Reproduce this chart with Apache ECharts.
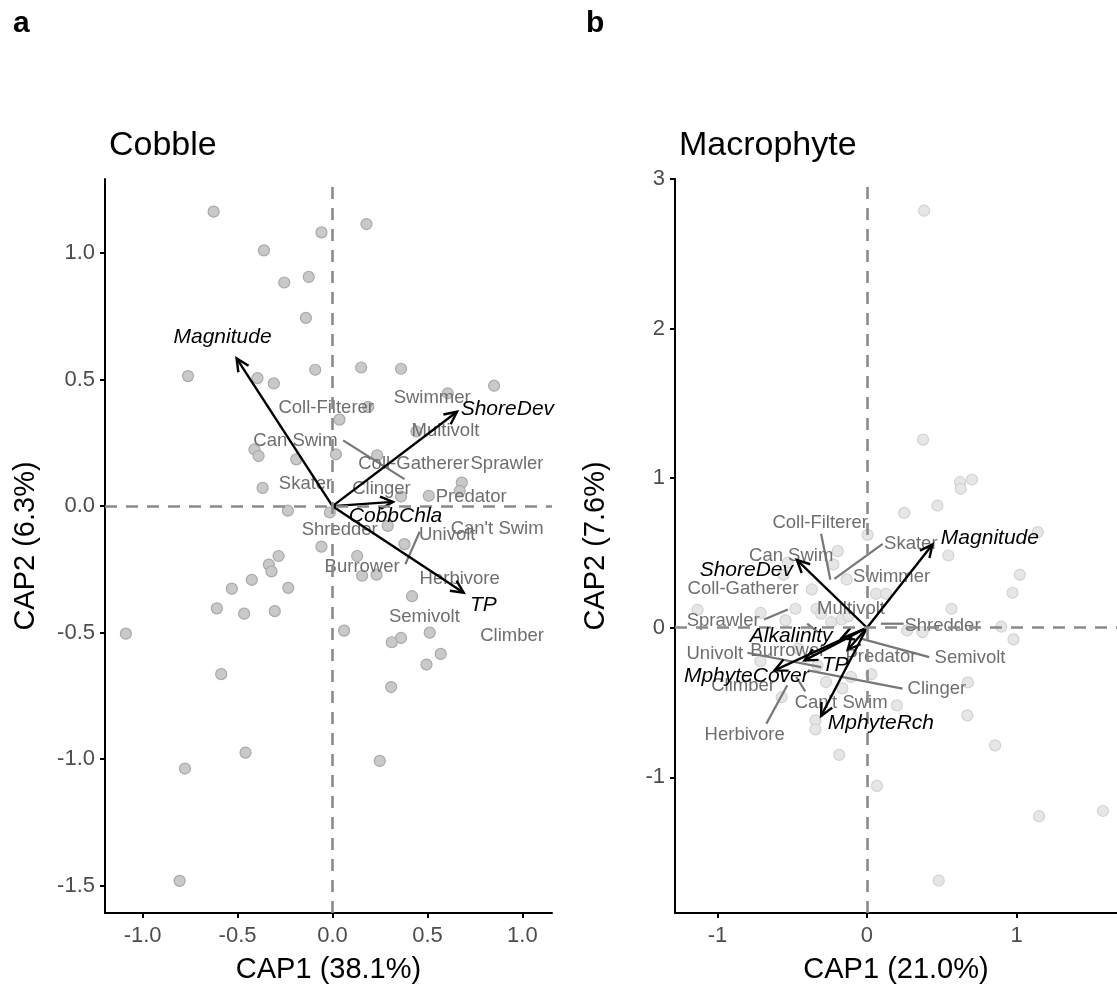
<!DOCTYPE html>
<html>
<head>
<meta charset="utf-8">
<script src="https://cdn.jsdelivr.net/npm/echarts@6/dist/echarts.min.js"></script>
<style>
  html, body { margin: 0; padding: 0; background: #fff; }
  #chart { width: 1117px; height: 989px; }
</style>
</head>
<body>
<div id="chart"></div>
<script>
// ---- panel a : Cobble ----
const cobbleSites = [
  [-0.626, 1.164], [0.179, 1.115], [-0.058, 1.082], [-0.361, 1.011], [-0.254, 0.884], [-0.125, 0.906], [-0.140, 0.744],
  [-0.761, 0.514], [-0.395, 0.506], [-0.309, 0.485], [-0.091, 0.539], [0.151, 0.548], [0.361, 0.543], [0.607, 0.446],
  [0.851, 0.476], [0.188, 0.392], [0.037, 0.342], [-0.411, 0.224], [-0.389, 0.198], [-0.191, 0.185], [0.018, 0.205],
  [0.235, 0.201], [0.442, 0.295], [-0.368, 0.072], [0.361, 0.038], [0.507, 0.041], [0.681, 0.093], [0.670, 0.060],
  [-0.235, -0.018], [-0.014, -0.025], [0.291, -0.078], [0.379, -0.150], [-0.058, -0.160], [0.130, -0.197],
  [-0.284, -0.197], [-0.335, -0.231], [-0.321, -0.258], [0.156, -0.275], [0.232, -0.271], [-0.425, -0.291],
  [-0.530, -0.326], [-0.233, -0.323], [0.419, -0.356], [-0.609, -0.404], [-0.465, -0.425], [-0.304, -0.415],
  [-1.088, -0.504], [0.061, -0.492], [0.512, -0.500], [0.361, -0.521], [0.312, -0.538], [0.570, -0.584],
  [0.495, -0.626], [-0.586, -0.664], [0.309, -0.715], [-0.458, -0.974], [0.249, -1.007], [-0.777, -1.037],
  [-0.805, -1.481]
];
const cobbleVars = ['Magnitude', 'ShoreDev', 'CobbChla', 'TP'];
const cobbleVarTips = [[-0.505, 0.584], [0.656, 0.373], [0.319, 0.017], [0.691, -0.342]];
const cobbleVarLabelPos = [[-0.579, 0.667], [0.921, 0.383], [0.332, -0.039], [0.795, -0.391]];
const cobbleTraits = ['Coll-Filterer', 'Swimmer', 'Multivolt', 'Can Swim', 'Coll-Gatherer', 'Sprawler', 'Skater',
  'Clinger', 'Predator', 'Shredder', "Can't Swim", 'Univolt', 'Burrower', 'Herbivore', 'Semivolt', 'Climber'];
const cobbleTraitPos = [[-0.033, 0.387], [0.525, 0.429], [0.595, 0.297], [-0.195, 0.258], [0.428, 0.166],
  [0.919, 0.166], [-0.142, 0.087], [0.258, 0.067], [0.730, 0.038], [0.038, -0.093], [0.867, -0.091],
  [0.604, -0.114], [0.156, -0.242], [0.670, -0.288], [0.484, -0.439], [0.946, -0.512]];
const cobbleLeaders = [[0.056, 0.260, 0.379, 0.107], [0.459, -0.101, 0.384, -0.229]];

// ---- panel b : Macrophyte ----
const macroSites = [
  [0.382, 2.788], [0.375, 1.258], [0.622, 0.973], [0.702, 0.991], [0.627, 0.929], [0.471, 0.817], [0.249, 0.768],
  [1.142, 0.639], [0.004, 0.621], [0.544, 0.483], [-0.196, 0.512], [-0.225, 0.423], [-0.529, 0.436], [1.022, 0.354],
  [0.973, 0.234], [-0.136, 0.323], [-0.369, 0.256], [0.060, 0.227], [0.127, 0.227], [-0.558, 0.354], [-1.133, 0.120],
  [-0.711, 0.100], [-0.478, 0.127], [-0.338, 0.127], [0.565, 0.127], [-0.545, 0.049], [-0.240, 0.038],
  [-0.169, 0.055], [-0.125, 0.078], [-0.307, 0.094], [0.898, 0.007], [0.268, -0.018], [0.371, -0.029],
  [0.980, -0.078], [0.675, -0.365], [0.671, -0.586], [0.857, -0.786], [0.200, -0.519], [0.029, -0.310],
  [-0.107, -0.329], [-0.165, -0.405], [-0.274, -0.363], [-0.331, -0.252], [-0.345, -0.619], [-0.345, -0.679],
  [-0.186, -0.850], [0.067, -1.057], [-0.571, -0.465], [-0.713, -0.224], [-0.462, -0.140], [1.151, -1.260],
  [1.578, -1.225], [0.480, -1.690]
];
const macroVars = ['Magnitude', 'ShoreDev', 'Alkalinity', 'TP', 'MphyteCover', 'MphyteRch', ''];
const macroVarTips = [[0.438, 0.557], [-0.469, 0.454], [-0.173, -0.073], [-0.418, -0.218], [-0.618, -0.285],
  [-0.307, -0.590], [-0.129, -0.147]];
const macroVarLabelPos = [[0.822, 0.599], [-0.807, 0.383], [-0.507, -0.058], [-0.213, -0.252], [-0.807, -0.323],
  [0.093, -0.641], [0, 0]];
const macroTraits = ['Coll-Filterer', 'Skater', 'Can Swim', 'Swimmer', 'Coll-Gatherer', 'Multivolt', 'Sprawler',
  'Shredder', 'Univolt', 'Burrower', 'Predator', 'Semivolt', 'Climber', 'Clinger', "Can't Swim", 'Herbivore'];
const macroTraitPos = [[-0.313, 0.701], [0.293, 0.563], [-0.507, 0.483], [0.165, 0.339], [-0.829, 0.261],
  [-0.107, 0.127], [-0.962, 0.049], [0.505, 0.015], [-1.018, -0.174], [-0.529, -0.152], [0.093, -0.196],
  [0.689, -0.202], [-0.829, -0.389], [0.467, -0.412], [-0.173, -0.501], [-0.818, -0.719]];
const macroLeaders = [[-0.307, 0.628, -0.245, 0.321], [0.105, 0.561, -0.218, 0.327], [-0.689, 0.055, -0.529, 0.122],
  [0.093, 0.027, 0.245, 0.027], [-0.400, 0.027, -0.329, -0.029], [-0.800, -0.167, -0.307, -0.263],
  [0.416, -0.196, -0.040, -0.073], [0.238, -0.407, -0.395, -0.285], [-0.673, -0.641, -0.533, -0.385],
  [-0.413, -0.425, -0.473, -0.329]];

const FONT = "'Liberation Sans', Arial, Helvetica, sans-serif";

const chart = echarts.init(document.getElementById('chart'), null, { renderer: 'canvas' });

// 箭头: 从原点到变量端点, 开口箭头
function arrowRender(params, api) {
  const p0 = api.coord([0, 0]);
  const p1 = api.coord([api.value(0), api.value(1)]);
  const ang = Math.atan2(p1[1] - p0[1], p1[0] - p0[0]);
  const L = 14, a = Math.PI / 7;
  const h1 = [p1[0] - L * Math.cos(ang - a), p1[1] - L * Math.sin(ang - a)];
  const h2 = [p1[0] - L * Math.cos(ang + a), p1[1] - L * Math.sin(ang + a)];
  return {
    type: 'group',
    children: [
      { type: 'line', shape: { x1: p0[0], y1: p0[1], x2: p1[0], y2: p1[1] }, style: { stroke: '#000', lineWidth: 2.4 } },
      { type: 'polyline', shape: { points: [h1, p1, h2] }, style: { stroke: '#000', lineWidth: 2.4, fill: null } }
    ]
  };
}

function segRender(params, api) {
  const p0 = api.coord([api.value(0), api.value(1)]);
  const p1 = api.coord([api.value(2), api.value(3)]);
  return { type: 'line', shape: { x1: p0[0], y1: p0[1], x2: p1[0], y2: p1[1] }, style: { stroke: '#777', lineWidth: 2.2 } };
}

function textRender(names, font, color) {
  return function (params, api) {
    const p = api.coord([api.value(0), api.value(1)]);
    return {
      type: 'text', x: p[0], y: p[1],
      style: { text: names[params.dataIndex], font: font, fill: color, textAlign: 'center', textVerticalAlign: 'middle' }
    };
  };
}

function xAxisCfg(idx, min, max, ticks, fmt, name) {
  return {
    gridIndex: idx, type: 'value', min: min, max: max, name: name, nameLocation: 'middle', nameGap: 42,
    nameTextStyle: { fontSize: 29, color: '#000', fontFamily: FONT },
    axisLine: { show: true, onZero: false, lineStyle: { color: '#000', width: 2 } },
    axisTick: { show: true, length: 5, customValues: ticks, lineStyle: { color: '#000', width: 2 } },
    axisLabel: { customValues: ticks, formatter: fmt, fontSize: 22, color: '#4d4d4d', margin: 12, fontFamily: FONT },
    splitLine: { show: false }
  };
}
function yAxisCfg(idx, min, max, ticks, fmt, name) {
  return {
    gridIndex: idx, type: 'value', min: min, max: max, name: name, nameLocation: 'middle', nameGap: 65,
    nameTextStyle: { fontSize: 29, color: '#000', fontFamily: FONT },
    axisLine: { show: true, onZero: false, lineStyle: { color: '#000', width: 2 } },
    axisTick: { show: true, length: 5, customValues: ticks, lineStyle: { color: '#000', width: 2 } },
    axisLabel: { customValues: ticks, formatter: fmt, fontSize: 22, color: '#4d4d4d', margin: 10, fontFamily: FONT },
    splitLine: { show: false }
  };
}

function panelSeries(idx, sites, ptColor, ptBorder, vars, tips, varPos, traits, traitPos, leaders) {
  return [
    {
      type: 'scatter', xAxisIndex: idx, yAxisIndex: idx, data: sites, symbolSize: 11, z: 1,
      itemStyle: { color: ptColor, borderColor: ptBorder, borderWidth: 1.2, opacity: 1 },
      markLine: {
        silent: true, symbol: ['none', 'none'], label: { show: false },
        lineStyle: { color: '#8a8a8a', width: 2.6, type: [12, 9] },
        data: [{ xAxis: 0 }, { yAxis: 0 }]
      }
    },
    { type: 'custom', xAxisIndex: idx, yAxisIndex: idx, data: leaders, renderItem: segRender, z: 2, silent: true },
    { type: 'custom', xAxisIndex: idx, yAxisIndex: idx, data: traitPos, z: 3, silent: true,
      renderItem: textRender(traits, '18.5px ' + FONT, '#6e6e6e') },
    { type: 'custom', xAxisIndex: idx, yAxisIndex: idx, data: tips, renderItem: arrowRender, z: 4, silent: true },
    { type: 'custom', xAxisIndex: idx, yAxisIndex: idx, data: varPos, z: 5, silent: true,
      renderItem: textRender(vars, 'italic 21px ' + FONT, '#000') }
  ];
}

const fmt1 = v => v.toFixed(1);
const fmt0 = v => v.toFixed(0);

const option = {
  backgroundColor: '#fff',
  animation: false,
  title: [
    { text: 'a', left: 8, top: 4, textStyle: { fontSize: 30, fontWeight: 'bold', color: '#000', fontFamily: FONT } },
    { text: 'b', left: 581, top: 4, textStyle: { fontSize: 30, fontWeight: 'bold', color: '#000', fontFamily: FONT } },
    { text: 'Cobble', left: 104, top: 124, textStyle: { fontSize: 34, fontWeight: 'normal', color: '#000', fontFamily: FONT } },
    { text: 'Macrophyte', left: 674, top: 124, textStyle: { fontSize: 34, fontWeight: 'normal', color: '#000', fontFamily: FONT } }
  ],
  grid: [
    { left: 105, top: 179, width: 447, height: 736 },
    { left: 675, top: 179, width: 442, height: 736 }
  ],
  xAxis: [
    xAxisCfg(0, -1.198, 1.156, [-1, -0.5, 0, 0.5, 1], fmt1, 'CAP1 (38.1%)'),
    xAxisCfg(1, -1.284, 1.672, [-1, 0, 1], fmt0, 'CAP1 (21.0%)')
  ],
  yAxis: [
    yAxisCfg(0, -1.608, 1.293, [-1.5, -1, -0.5, 0, 0.5, 1], fmt1, 'CAP2 (6.3%)'),
    yAxisCfg(1, -1.907, 3.0, [-1, 0, 1, 2, 3], fmt0, 'CAP2 (7.6%)')
  ],
  series: [
    ...panelSeries(0, cobbleSites, '#c9c9c9', '#a9a9a9', cobbleVars, cobbleVarTips, cobbleVarLabelPos,
      cobbleTraits, cobbleTraitPos, cobbleLeaders),
    ...panelSeries(1, macroSites, '#e6e6e6', '#d2d2d2', macroVars, macroVarTips, macroVarLabelPos,
      macroTraits, macroTraitPos, macroLeaders)
  ]
};

chart.setOption(option);
</script>
</body>
</html>
